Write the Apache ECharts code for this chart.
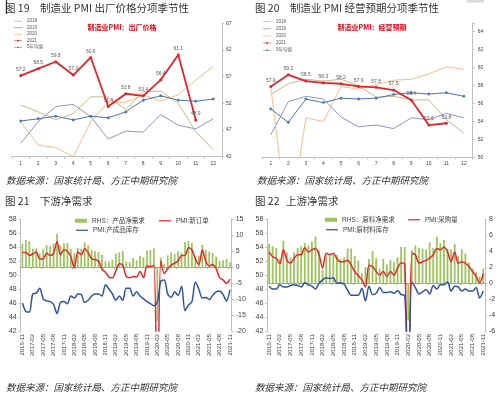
<!DOCTYPE html>
<html><head><meta charset="utf-8">
<script src="https://cdn.jsdelivr.net/npm/echarts@6/dist/echarts.min.js"></script>
<style>html,body{margin:0;padding:0;background:#fff}#c{width:500px;height:396px}</style>
</head><body><div id="c"></div>
<script>
// ---------- data ----------
const months = ['1','2','3','4','5','6','7','8','9','10','11','12'];
// Chart 19: 制造业PMI 出厂价格
const c19_2018 = [51.7, 50.4, 48.9, 50.1, 53.2, 53.2, 50.8, 54.2, 54.3, 52.0, 46.7, 43.3];
const c19_2019 = [44.5, 48.6, 51.4, 51.8, 49.5, 45.3, 46.8, 46.6, 49.9, 47.9, 47.2, 49.1];
const c19_2020 = [48.5, 44.2, 43.7, 42.0, 48.6, 52.2, 52.2, 53.6, 52.4, 53.6, 56.4, 58.9];
const c19_2021 = [57.2, 58.5, 59.8, 57.3, 60.6, 51.4, 53.8, 53.4, 56.4, 61.1, 48.9];
const c19_avg  = [48.7, 49.1, 49.6, 48.9, 49.6, 49.3, 50.4, 52.6, 53.4, 52.6, 52.4, 52.8];
// Chart 20: 制造业PMI 经营预期
const c20_2018 = [57.0, 58.2, 58.7, 58.5, 58.7, 58.0, 56.7, 56.8, 56.4, 56.4, 54.2, 52.7];
const c20_2019 = [52.5, 56.2, 56.8, 56.5, 54.5, 53.4, 53.6, 53.2, 54.4, 54.2, 54.9, 54.4];
const c20_2020 = [57.9, 41.8, 54.4, 54.0, 57.9, 57.6, 58.1, 58.6, 58.7, 59.3, 60.1, 59.8];
const c20_2021 = [57.9, 59.2, 58.5, 58.3, 58.2, 57.9, 57.8, 57.5, 56.4, 53.6, 53.8];
const c20_avg  = [55.4, 53.9, 56.5, 56.1, 56.6, 56.5, 56.6, 57.0, 57.2, 57.05, 57.2, 56.8];
const y19Ticks = [42, 67, 5];
const y20Ticks = [50, 65, 2];

const dates = ['2016-11','2016-12',
 '2017-01','2017-02','2017-03','2017-04','2017-05','2017-06','2017-07','2017-08','2017-09','2017-10','2017-11','2017-12',
 '2018-01','2018-02','2018-03','2018-04','2018-05','2018-06','2018-07','2018-08','2018-09','2018-10','2018-11','2018-12',
 '2019-01','2019-02','2019-03','2019-04','2019-05','2019-06','2019-07','2019-08','2019-09','2019-10','2019-11','2019-12',
 '2020-01','2020-02','2020-03','2020-04','2020-05','2020-06','2020-07','2020-08','2020-09','2020-10','2020-11','2020-12',
 '2021-01','2021-02','2021-03','2021-04','2021-05','2021-06','2021-07','2021-08','2021-09','2021-10','2021-11'];
// Chart 21: 下游净需求
const c21_new = [53.2,53.2, 52.8,53.0,53.3,52.3,52.3,53.1,52.8,53.1,54.8,52.9,53.6,53.4,
 52.6,51.0,53.3,52.9,53.8,53.2,52.3,52.2,52.0,50.8,50.4,49.7,
 49.6,50.6,51.6,51.4,49.8,49.6,49.8,49.7,50.5,49.6,51.3,51.2,
 51.4,29.3,52.0,50.2,50.9,51.4,51.7,52.0,52.8,52.8,53.9,53.6,
 52.3,51.5,53.6,52.0,51.3,51.5,50.9,49.6,49.3,48.8,49.4];
const c21_inv = [46.0,44.8, 44.7,47.3,47.4,48.1,46.6,46.3,46.2,45.8,44.5,46.1,46.2,45.9,
 47.0,46.7,47.3,47.2,46.1,46.4,47.0,47.3,47.3,47.0,48.6,48.0,
 47.3,46.4,47.0,46.4,48.1,48.1,47.0,47.6,47.0,46.6,46.2,45.9,
 45.6,46.1,49.1,49.3,47.3,46.8,47.6,47.1,48.4,44.9,45.7,46.2,
 49.0,48.0,46.7,46.8,46.5,47.1,47.6,47.7,47.2,46.3,47.9];
const c21_bar = [7.2,8.4, 8.1,5.7,5.9,4.2,5.7,6.8,6.6,7.3,10.3,6.8,7.4,7.5,
 5.6,4.3,6.0,5.7,7.7,6.8,5.3,4.9,4.7,3.8,1.8,1.7,
 2.3,4.2,4.6,5.0,1.7,1.5,2.8,2.1,3.5,3.0,5.1,5.3,
 5.8,-16.8,2.9,0.9,3.6,4.6,4.1,4.9,4.4,7.9,8.2,7.4,
 3.3,3.5,6.9,5.2,4.8,4.4,3.3,1.9,2.1,2.5,1.5];
// Chart 22: 上游净需求
const c22_buy = [53.3,52.6, 52.4,51.6,53.6,52.1,51.7,52.4,52.9,52.9,53.9,53.3,53.6,53.8,
 52.9,51.0,53.1,52.9,53.1,52.3,51.9,51.9,52.1,51.4,50.5,49.9,
 49.3,48.3,51.4,51.2,50.5,50.0,50.5,49.8,50.5,50.0,51.0,51.7,
 51.6,29.0,53.1,52.9,51.7,51.9,52.1,52.4,52.9,53.8,53.6,54.0,
 53.3,51.9,53.3,51.7,51.9,51.7,51.2,50.5,49.8,48.9,50.2];
const c22_inv = [48.4,48.0, 48.0,48.6,48.3,48.3,48.5,48.6,48.5,48.3,48.9,48.6,48.4,48.0,
 48.8,49.3,49.6,49.5,49.6,48.8,48.9,48.7,47.8,47.1,47.1,47.1,
 48.1,46.3,48.4,47.2,47.4,48.2,47.5,47.5,47.6,47.4,47.8,47.2,
 47.1,32.9,49.0,48.2,47.3,47.6,47.9,47.3,48.5,48.0,48.6,48.6,
 49.0,47.7,48.4,48.3,47.7,48.0,47.7,47.7,48.2,46.7,47.7];
const c22_bar = [4.9,4.6, 4.4,3.0,5.3,3.8,3.2,3.8,4.4,4.6,5.0,4.7,5.2,5.8,
 4.1,1.7,3.5,3.4,3.5,3.5,3.0,3.2,4.3,4.3,3.4,2.8,
 1.2,2.0,3.0,4.0,3.1,1.8,3.0,2.3,2.9,2.6,3.2,4.5,
 4.5,-4.7,4.1,4.7,4.4,4.3,4.2,5.1,4.4,5.8,5.0,5.4,
 4.3,4.2,4.9,3.4,4.2,3.7,2.6,1.8,1.3,0.8,1.8];

// ---------- styling ----------
const FONT = '"Liberation Sans", "Noto Sans CJK SC", sans-serif';
const CJK = '"Noto Sans CJK SC", sans-serif';
const GRAY = '#bfbfbf';
const C2018 = '#c6b98a', C2019 = '#8d96c4', C2020 = '#f7bd8d', C2021 = '#e3242b', CAVG = '#4a74b4';
const CRED = '#e8262c', CBLUE = '#2f529f', CBAR = '#9bc45a';
const ICON_LINE = 'path://M0,0H20V2H0Z';
const ICON_21 = 'path://M0,4.3H20V5.7H0Z M12.5,5A2.5,2.5,0,1,1,7.5,5A2.5,2.5,0,1,1,12.5,5Z';
const ICON_AVG = 'path://M0,4.4H20V5.6H0Z M10,2.2L12.8,5L10,7.8L7.2,5Z';

function ln(name, x, y, data, color, width, extra) {
  return Object.assign({type:'line', name, xAxisIndex:x, yAxisIndex:y, data, symbol:'none',
    lineStyle:{color, width}, itemStyle:{color}, emphasis:{disabled:true}, animation:false}, extra || {});
}
const lbl2021 = {show:true, position:'top', distance:2, fontSize:5, color:'#595959', fontFamily:FONT,
  formatter: p => Number(p.value).toFixed(1)};

function seasonX(g) {
  return {gridIndex:g, type:'category', data:months, boundaryGap:true,
    axisLine:{show:true, lineStyle:{color:GRAY, width:1}},
    axisTick:{show:true, length:2, lineStyle:{color:GRAY}},
    axisLabel:{fontSize:5, color:'#404040', fontFamily:FONT, margin:4}};
}
function dateX(g) {
  return {gridIndex:g, type:'category', data:dates, boundaryGap:true,
    axisLine:{show:true, lineStyle:{color:'#a6a6a6', width:1}},
    axisTick:{show:true, length:2, interval:2, lineStyle:{color:'#a6a6a6'}},
    axisLabel:{rotate:90, interval:2, fontSize:6, color:'#404040', fontFamily:FONT, margin:3}};
}
function valY(g, pos, t, fs, extra) {
  return Object.assign({gridIndex:g, type:'value', position:pos, min:t[0], max:t[1], interval:t[2],
    axisLine:{show:true, lineStyle:{color:GRAY, width:1}},
    axisTick:{show:true, length:2, lineStyle:{color:GRAY}},
    splitLine:{show:false},
    axisLabel:{fontSize:fs, color:'#404040', fontFamily:FONT, margin:4}}, extra || {});
}
function legendAt(left, top, names, opt) {
  return Object.assign({left, top, orient:'horizontal', itemWidth:12, itemHeight:4, itemGap:4,
    selectedMode:false, padding:0, data:names,
    textStyle:{fontSize:6.5, color:'#404040', fontFamily:FONT}}, opt || {});
}
function seasonLegend(left, top, gap) {
  return legendAt(left, top, [
    {name:'2018', icon:ICON_LINE}, {name:'2019', icon:ICON_LINE}, {name:'2020', icon:ICON_LINE},
    {name:'2021', icon:ICON_21}, {name:'5年均值', icon:ICON_AVG}],
    {orient:'vertical', itemWidth:8, itemHeight:5, itemGap:gap,
     textStyle:{fontSize:4.5, color:'#555', fontFamily:FONT}});
}
function txt(x, y, s, size, extra) {
  return {type:'text', x, y, silent:true,
    style:Object.assign({text:s, fontSize:size, fontFamily:CJK, fill:'#333', verticalAlign:'middle'}, extra || {})};
}

const option = {
  animation:false,
  backgroundColor:'#fff',
  textStyle:{fontFamily:FONT},
  grid:[
    {left:12, top:23.3, width:210, height:133.4, outerBoundsMode:'none'},
    {left:262, top:22.75, width:210.7, height:134.6, outerBoundsMode:'none'},
    {left:20.7, top:219, width:211, height:112, outerBoundsMode:'none'},
    {left:267.3, top:219, width:217.7, height:112, outerBoundsMode:'none'}
  ],
  xAxis:[seasonX(0), seasonX(1), dateX(2), dateX(3)],
  yAxis:[
    valY(0, 'right', y19Ticks, 5),
    valY(1, 'right', y20Ticks, 5, {axisLabel:{fontSize:5, color:'#404040', fontFamily:FONT, margin:5,
      formatter: v => (v % 2 === 0 ? String(v) : '')}}),
    valY(2, 'left', [42, 58, 2], 7),
    valY(2, 'right', [-20, 15, 5], 7),
    valY(3, 'left', [42, 58, 2], 7),
    valY(3, 'right', [-6, 8, 2], 7)
  ],
  legend:[
    seasonLegend(14, 19, 2),
    seasonLegend(263, 19.5, 2.6),
    legendAt(75, 217.5, [{name:'RHS：产品净需求', icon:'rect'}]),
    legendAt(159, 217.5, [{name:'PMI:新订单', icon:ICON_LINE}]),
    legendAt(76, 227, [{name:'PMI:产成品库存', icon:ICON_LINE}]),
    legendAt(325, 216.5, [{name:'RHS：原料净需求', icon:'rect'}]),
    legendAt(408, 216.5, [{name:'PMI:采购量', icon:ICON_LINE}]),
    legendAt(326, 226.5, [{name:'PMI:原材料库存', icon:ICON_LINE}])
  ],
  series:[
    ln('2018',0,0,c19_2018,C2018,1),
    ln('2019',0,0,c19_2019,C2019,1),
    ln('2020',0,0,c19_2020,C2020,1),
    ln('5年均值',0,0,c19_avg,CAVG,1,{symbol:'diamond', symbolSize:3.5}),
    ln('2021',0,0,c19_2021,C2021,1.8,{symbol:'circle', symbolSize:3, label:lbl2021, z:5}),

    ln('2018',1,1,c20_2018,C2018,1),
    ln('2019',1,1,c20_2019,C2019,1),
    ln('2020',1,1,c20_2020,C2020,1),
    ln('5年均值',1,1,c20_avg,CAVG,1,{symbol:'diamond', symbolSize:3.5}),
    ln('2021',1,1,c20_2021,C2021,1.8,{symbol:'circle', symbolSize:3, label:lbl2021, z:5}),

    {type:'bar', name:'RHS：产品净需求', xAxisIndex:2, yAxisIndex:3, data:c21_bar, barWidth:'50%',
      itemStyle:{color:CBAR}, emphasis:{disabled:true}, z:1},
    ln('PMI:新订单',2,2,c21_new,CRED,1.5,{smooth:0.3, z:3}),
    ln('PMI:产成品库存',2,2,c21_inv,CBLUE,1.5,{smooth:0.3, z:3}),

    {type:'bar', name:'RHS：原料净需求', xAxisIndex:3, yAxisIndex:5, data:c22_bar, barWidth:'50%',
      itemStyle:{color:CBAR}, emphasis:{disabled:true}, z:1},
    ln('PMI:采购量',3,4,c22_buy,CRED,1.5,{smooth:0.3, z:3}),
    ln('PMI:原材料库存',3,4,c22_inv,CBLUE,1.5,{smooth:0.3, z:3})
  ],
  graphic:[
    {type:'line', silent:true, shape:{x1:6.5, y1:0, x2:6.5, y2:14}, style:{stroke:'#222', lineWidth:1.2}},
    {type:'rect', silent:true, shape:{x:467, y:0, width:17, height:2.5}, style:{fill:'#d9d9d9'}},
    txt(5, 8.5, '图 19', 10.5),
    txt(40, 8.5, '制造业 PMI 出厂价格分项季节性', 10.5),
    txt(255, 8.5, '图 20', 10.5),
    txt(290, 8.5, '制造业 PMI 经营预期分项季节性', 10.5),
    txt(122, 27.7, '制造业PMI：出厂价格', 7, {fill:'#e60012', fontWeight:'bold', align:'center'}),
    txt(372, 27.7, '制造业PMI：经营预期', 7, {fill:'#e60012', fontWeight:'bold', align:'center'}),
    txt(6, 180.5, '数据来源：国家统计局、方正中期研究院', 9.5, {fontStyle:'italic'}),
    txt(257, 180.5, '数据来源：国家统计局、方正中期研究院', 9.5, {fontStyle:'italic'}),
    txt(5, 201.5, '图 21', 10.5),
    txt(40, 201.5, '下游净需求', 10.5),
    txt(255, 201.5, '图 22', 10.5),
    txt(286, 201.5, '上游净需求', 10.5),
    txt(6, 387, '数据来源：国家统计局、方正中期研究院', 9.5, {fontStyle:'italic'}),
    txt(255, 387, '数据来源：国家统计局、方正中期研究院', 9.5, {fontStyle:'italic'})
  ]
};
const chart = echarts.init(document.getElementById('c'), null, {renderer:'canvas', width:500, height:396});
chart.setOption(option);
</script>
</body></html>
